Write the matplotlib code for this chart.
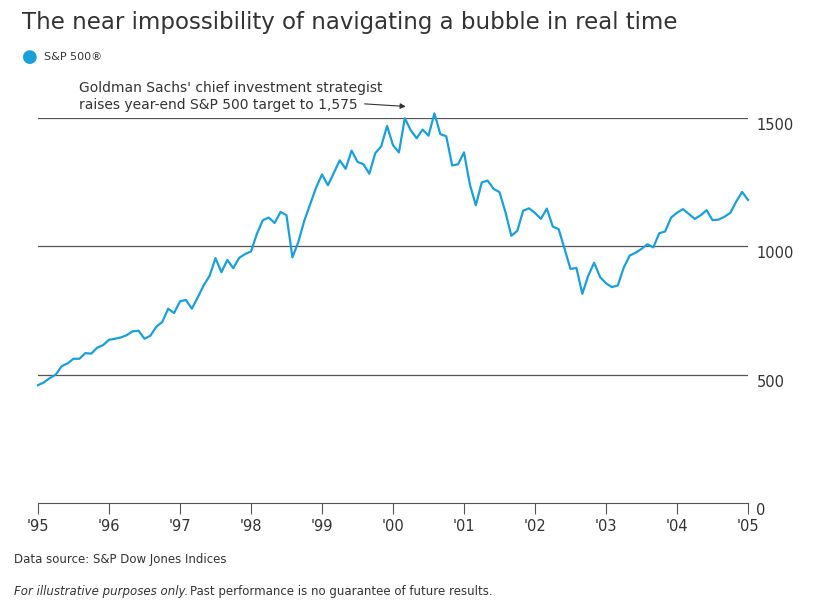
import matplotlib
matplotlib.use("Agg")
import matplotlib.pyplot as plt
import numpy as np

years = ["'95","'96","'97","'98","'99","'00","'01","'02","'03","'04","'05"]
sp500 = [459,470,487,500,533,544,562,562,584,582,605,615,
         636,640,645,654,669,671,640,652,687,705,757,740,
         786,791,757,801,848,885,954,899,947,915,955,970,
         980,1049,1102,1112,1091,1134,1121,957,1017,1099,1164,1229,
         1280,1238,1286,1335,1302,1373,1329,1320,1283,1363,1389,1469,
         1394,1366,1499,1452,1421,1455,1431,1518,1437,1429,1315,1320,
         1366,1240,1160,1249,1256,1224,1211,1134,1041,1060,1139,1148,
         1130,1107,1147,1077,1067,990,912,916,815,886,936,880,
         856,841,848,917,964,975,990,1008,996,1051,1058,1112,
         1131,1145,1126,1107,1121,1141,1102,1104,1115,1130,1174,1212,
         1181]
t = 1995 + np.arange(len(sp500)) / 12.0

fig = plt.figure(figsize=(8.14, 6.15), dpi=100)
ax = fig.add_axes([38/814, (615-503)/615, 710/814, (503-118)/615])
ax.set_ylim(0, 1500)
ax.set_xlim(1995, 2005)
for v in [500, 1000, 1500]:
    ax.axhline(v, color="#555555", lw=0.9, zorder=1)
ax.plot(t, sp500, color="#1a9fd9", lw=1.6, zorder=3, clip_on=False)
for s in ["top", "right", "left"]:
    ax.spines[s].set_visible(False)
ax.spines["bottom"].set_color("#555555")
ax.set_xticks(np.arange(1995, 2006))
ax.set_xticklabels(years, fontsize=10.5, color="#333333")
ax.tick_params(axis="x", length=8, color="#555555")
ax.yaxis.tick_right()
ax.set_yticks([0, 500, 1000, 1500])
ax.set_yticklabels(["0", "500", "1000", "1500"], fontsize=10.5, color="#333333")
ax.tick_params(axis="y", length=0, pad=6)
for lbl in ax.get_yticklabels():
    lbl.set_verticalalignment("top")

ax.text(1995.58, 1522, "Goldman Sachs' chief investment strategist\nraises year-end S&P 500 target to 1,575",
        fontsize=10, color="#333333", va="bottom", ha="left", linespacing=1.3, clip_on=False)
ax.annotate("", xy=(2000.18, 1545), xytext=(1999.6, 1555), annotation_clip=False,
            arrowprops=dict(arrowstyle="-|>", color="#333333", lw=0.8,
                            shrinkA=0, shrinkB=0, mutation_scale=8))

fig.text(22/814, 1-22/615, "The near impossibility of navigating a bubble in real time",
         fontsize=16.5, color="#333333", va="center", ha="left")
fig.text(30/814, 1-57/615, "\u25CF", fontsize=13, color="#1a9fd9", va="center", ha="center")
fig.text(44/814, 1-57/615, "S&P 500\u00AE", fontsize=8, color="#333333", va="center")
fig.text(14/814, 1-559/615, "Data source: S&P Dow Jones Indices", fontsize=8.5, color="#333333", va="center")
fig.text(14/814, 1-592/615, "For illustrative purposes only.", fontsize=8.5, color="#333333",
         va="center", style="italic")
fig.text(190/814, 1-592/615, "Past performance is no guarantee of future results.",
         fontsize=8.5, color="#333333", va="center")
fig.savefig("out.png", dpi=100)
